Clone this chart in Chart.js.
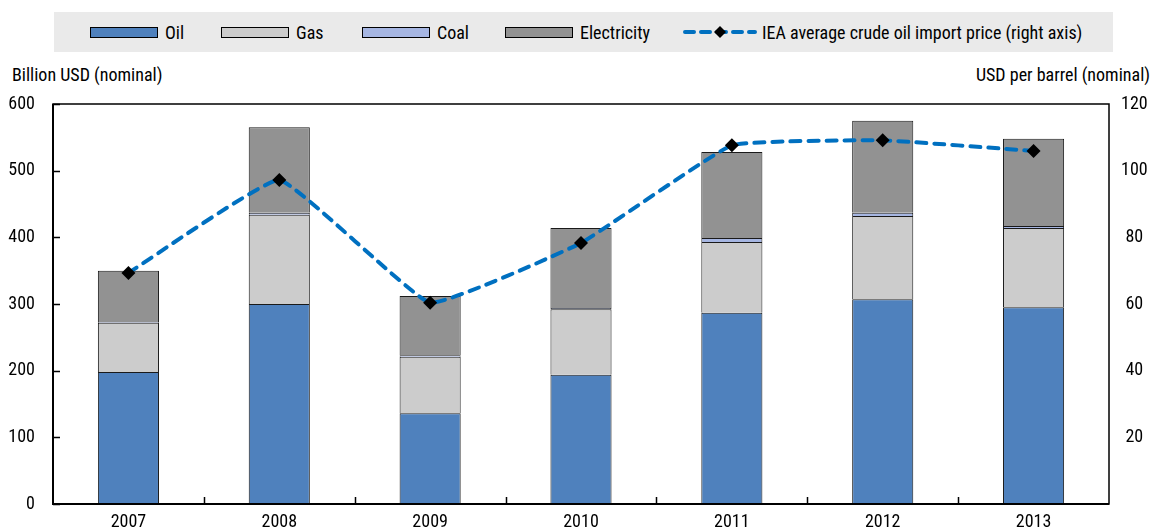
<!DOCTYPE html>
<html>
<head>
<meta charset="utf-8">
<script src="https://cdn.jsdelivr.net/npm/chart.js@4/dist/chart.umd.min.js"></script>
<style>
  html, body { margin: 0; padding: 0; background: #fff; }
  body { width: 1156px; height: 529px; position: relative; overflow: hidden;
         font-family: 'Liberation Sans Narrow', 'Arial Narrow', 'Roboto Condensed', sans-serif; color: #000; }
  #legend { position: absolute; left: 54px; top: 12px; width: 1059px; height: 40px; background: #eaeaea;
            display: flex; align-items: center; font-size: 18px; }
  .item { display: flex; align-items: center; position: absolute; top: 0; height: 40px; }
  .box { width: 66px; height: 9px; border: 1px solid #000; margin-right: 7px; }
  .ttl { position: absolute; top: 64px; font-size: 18px; white-space: nowrap; }
  #wrap { position: absolute; left: 0; top: 0; width: 1156px; height: 529px; }
</style>
</head>
<body>
<div id="legend"></div>
<div class="ttl" style="left:12px">Billion USD (nominal)</div>
<div class="ttl" style="right:6px">USD per barrel (nominal)</div>
<div id="wrap"><canvas id="c" width="1156" height="529"></canvas></div>
<script>
// categories and series (billion USD, nominal)
const years = ['2007', '2008', '2009', '2010', '2011', '2012', '2013'];
const oil = [198, 300, 136, 194, 287, 307, 295];
const gas = [74, 134, 85, 98, 106, 125, 119];
const coal = [1, 3, 2, 2, 6, 5, 3];
const electricity = [77, 128, 89, 120, 129, 138, 131];
// IEA average crude oil import price, USD per barrel
const crudePrice = [69.3, 97.2, 60.4, 78.3, 107.6, 109.1, 105.9];

const leftTicks = [0, 100, 200, 300, 400, 500, 600];
const rightTicks = [20, 40, 60, 80, 100, 120];

const FONT = "'Liberation Sans Narrow', 'Arial Narrow', 'Roboto Condensed', sans-serif";

const barSeries = [
    { label: 'Oil', data: oil, color: '#4f81bd', legendX: 36 },
    { label: 'Gas', data: gas, color: '#cccccc', legendX: 167 },
    { label: 'Coal', data: coal, color: '#a6b6e2', legendX: 308 },
    { label: 'Electricity', data: electricity, color: '#929292', legendX: 451 },
];

// legend (html, grey band)
const legend = document.getElementById('legend');
barSeries.forEach(s => {
    legend.insertAdjacentHTML('beforeend',
        `<div class="item" style="left:${s.legendX}px"><div class="box" style="background:${s.color}"></div>${s.label}</div>`);
});
legend.insertAdjacentHTML('beforeend',
    `<div class="item" style="left:629px">
       <svg width="74" height="14" style="margin-right:5px">
         <line x1="2" y1="7" x2="72" y2="7" stroke="#0070c0" stroke-width="4" stroke-linecap="round" stroke-dasharray="9,7"/>
         <path d="M37 1 L43 7 L37 13 L31 7 Z" fill="#000"/>
       </svg>IEA average crude oil import price (right axis)</div>`);

// inward tick marks + frame
const frameTicks = {
    id: 'frameTicks',
    afterDatasetsDraw(chart) {
        const { ctx, chartArea: a, scales } = chart;
        ctx.save();
        ctx.strokeStyle = '#000';
        ctx.lineWidth = 1.5;
        ctx.strokeRect(a.left, a.top, a.right - a.left, a.bottom - a.top);
        ctx.lineWidth = 2;
        ctx.beginPath();
        ctx.moveTo(a.left, a.top); ctx.lineTo(a.left, a.bottom); ctx.lineTo(a.right, a.bottom);
        ctx.stroke();
        ctx.lineWidth = 1.5;
        ctx.beginPath();
        leftTicks.forEach(v => {
            const y = Math.round(scales.y.getPixelForValue(v)) + 0.5;
            ctx.moveTo(a.left, y); ctx.lineTo(a.left + 7, y);
        });
        const x = scales.x;
        for (let i = 1; i < years.length; i++) {
            const px = Math.round((x.getPixelForValue(i - 1) + x.getPixelForValue(i)) / 2) + 0.5;
            ctx.moveTo(px, a.bottom); ctx.lineTo(px, a.bottom - 7);
        }
        ctx.stroke();
        ctx.restore();
    }
};

const datasets = barSeries.map(s => ({
    type: 'bar',
    label: s.label,
    data: s.data,
    backgroundColor: s.color,
    borderColor: '#1a1a1a',
    borderWidth: 1,
    yAxisID: 'y',
    stack: 'energy',
    order: 2,
    categoryPercentage: 1,
    barPercentage: 0.405,
}));

datasets.push({
    type: 'line',
    label: 'IEA average crude oil import price (right axis)',
    data: crudePrice,
    yAxisID: 'y1',
    borderColor: '#0070c0',
    borderWidth: 4,
    borderDash: [10, 8],
    borderCapStyle: 'round',
    tension: 0.1,
    fill: false,
    pointStyle: 'rectRot',
    pointRadius: 7,
    pointBackgroundColor: '#000',
    pointBorderColor: '#000',
    pointBorderWidth: 0,
    order: 1,
});

new Chart(document.getElementById('c'), {
    data: { labels: years, datasets },
    plugins: [frameTicks],
    options: {
        responsive: false,
        animation: false,
        layout: { padding: { top: 104, left: 0, right: 0, bottom: 0 } },
        plugins: { legend: { display: false }, tooltip: { enabled: false } },
        scales: {
            x: {
                offset: true,
                grid: { display: false },
                border: { display: false },
                ticks: { color: '#000', font: { family: FONT, size: 18 }, padding: 0, maxRotation: 0 },
                afterFit: s => { s.height = 25; },
            },
            y: {
                position: 'left',
                stacked: true,
                min: 0, max: 600,
                grid: { display: false },
                border: { display: false },
                afterBuildTicks: s => { s.ticks = leftTicks.map(v => ({ value: v })); },
                ticks: { color: '#000', font: { family: FONT, size: 18 }, padding: 10 },
                afterFit: s => { s.width = 53; },
            },
            y1: {
                position: 'right',
                min: 0, max: 120,
                grid: { display: false },
                border: { display: false },
                afterBuildTicks: s => { s.ticks = rightTicks.map(v => ({ value: v })); },
                ticks: { color: '#000', font: { family: FONT, size: 18 }, padding: 4, crossAlign: 'center' },
                afterFit: s => { s.width = 47; },
            },
        },
    },
});
</script>
</body>
</html>
